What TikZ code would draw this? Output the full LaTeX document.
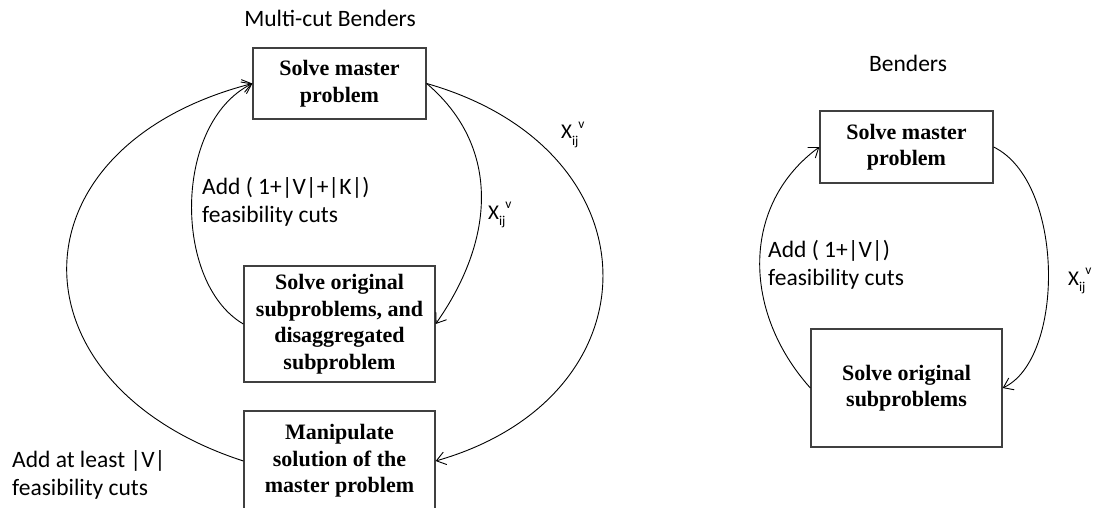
\documentclass[tikz,border=0pt]{standalone}
\usepackage{fontspec}
\setmainfont{Liberation Serif}
\newfontfamily\calib{Carlito}
\usetikzlibrary{arrows.meta}

% X with subscript ij and superscript v, set one after the other
\newcommand\xijv{X\raisebox{-0.3em}{\fontsize{13.5}{13.5}\selectfont ij}\raisebox{0.5em}{\fontsize{13.5}{13.5}\selectfont v}}

\begin{document}
\begin{tikzpicture}[x=1pt,y=-1pt,
  stepbox/.style={draw=black!75, line width=1.3pt, align=center, inner sep=0pt,
    font=\fontsize{22}{26.5}\selectfont\bfseries},
  lbl/.style={font=\calib\fontsize{23.5}{28}\selectfont, align=left, inner sep=0pt, anchor=west},
  ttl/.style={font=\calib\fontsize{23.5}{28}\selectfont, inner sep=0pt, anchor=base},
  xlbl/.style={font=\calib\fontsize{21}{24}\selectfont, inner sep=0pt, anchor=base west},
  flow/.style={line width=0.9pt, -{Straight Barb[length=9pt,width=13pt,line width=0.9pt]}}
]
\clip (0,0) rectangle (1099,508);

% ---- multi-cut scheme ----
\node[ttl] (h1) at (330,27) {Multi-cut Benders};
\node[stepbox, minimum width=173pt, minimum height=71pt] (m1) at (339.5,83.5) {Solve master\\problem};
\node[stepbox, minimum width=191pt, minimum height=116pt] (b2) at (339.5,324) {Solve original\\subproblems, and\\disaggregated\\subproblem};
\node[stepbox, minimum width=191pt, minimum height=100pt] (b3) at (339.5,461) {Manipulate\\solution of the\\master problem};

\draw[flow] (b2.west) .. controls (173,283) and (173,123) .. (m1.west);
\draw[flow] (b3.west) .. controls (6.5,384) and (6.5,147) .. (m1.west);
\draw[flow] (m1.east) .. controls (498,144) and (498,235) .. (b2.east);
\draw[flow] (m1.east) .. controls (660,150) and (660,397) .. (b3.east);

\node[lbl] (t1) at (202,202) {Add ( 1+|V|+|K|)\\feasibility cuts};
\node[lbl] (t2) at (12,475) {Add at least |V|\\feasibility cuts};
\node[xlbl] (x1) at (488,219) {\xijv};
\node[xlbl] (x2) at (561,139) {\xijv};

% ---- classic scheme ----
\node[ttl] (h2) at (908,72) {Benders};
\node[stepbox, minimum width=173pt, minimum height=72pt] (r1) at (906.5,147) {Solve master\\problem};
\node[stepbox, minimum width=191pt, minimum height=118pt] (r2) at (906.5,388) {Solve original\\subproblems};

\draw[flow] (r2.west) .. controls (741.5,311) and (741.5,204) .. (r1.west);
\draw[flow] (r1.east) .. controls (1065,182) and (1065,359) .. (r2.east);

\node[lbl] (t3) at (768,265) {Add ( 1+|V|)\\feasibility cuts};
\node[xlbl] (x3) at (1068,285) {\xijv};
\end{tikzpicture}
\end{document}
